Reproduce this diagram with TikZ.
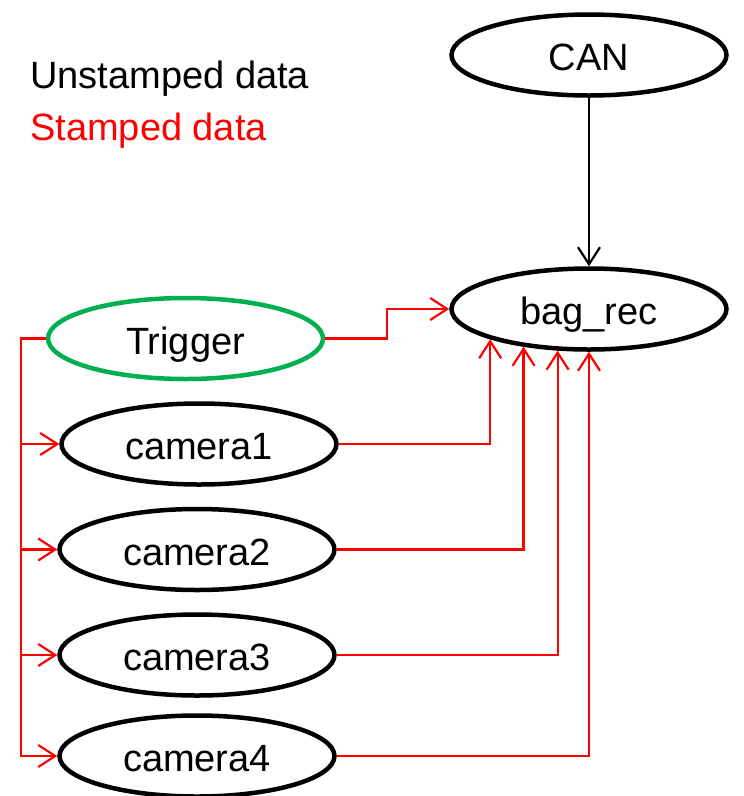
\documentclass[tikz,border=0pt]{standalone}
\usepackage{fontspec}
\setmainfont{Liberation Sans}
\usetikzlibrary{shapes.geometric,arrows.meta}
\tikzset{
  proc/.style={ellipse, draw=black, line width=4.5pt, inner sep=0pt,
    minimum width=275pt, minimum height=81pt,
    text height=31pt, text depth=0pt,
    font=\fontsize{38}{45}\selectfont},
  trig/.style={proc, draw={rgb,255:red,0;green,176;blue,80}},
  stamped/.style={draw=red, line width=2.2pt},
  raw/.style={draw=black, line width=2.2pt},
  tipv/.style={-{Straight Barb[length=17pt,width=22pt]}},
  legend/.style={anchor=base west, inner sep=0pt, font=\fontsize{38}{45}\selectfont}
}
\begin{document}
\begin{tikzpicture}[x=1pt, y=-1pt]
  \useasboundingbox (0,0) rectangle (744,796);

  % legend
  \node[legend] (lgraw) at (30,88) {Unstamped data};
  \node[legend, text=red] (lgstamp) at (30,140) {Stamped data};

  % processes
  \node[proc] (can) at (589,55) {CAN};
  \node[proc] (bag) at (589,309) {bag\_rec};
  \node[trig] (trigger) at (185.5,338.5) {Trigger};
  \node[proc] (cam1) at (199,444) {camera1};
  \node[proc] (cam2) at (197,549.5) {camera2};
  \node[proc] (cam3) at (197,655) {camera3};
  \node[proc] (cam4) at (197,756) {camera4};

  % unstamped CAN data
  \draw[raw, tipv] (can.south) -- (bag.north);

  % trigger line to the cameras
  \draw[stamped, tipv] (trigger.west) -- (21,338.5) coordinate (bus) |- (cam4.west);
  \draw[stamped, tipv] (bus |- cam1.west) -- (cam1.west);
  \draw[stamped, tipv] (bus |- cam2.west) -- (cam2.west);
  \draw[stamped, tipv] (bus |- cam3.west) -- (cam3.west);

  % stamped data into the recorder
  \draw[stamped, tipv] (trigger.east) -- (387,338.5) |- (bag.west);
  \draw[stamped, tipv] (cam1.east) -| (bag.197.4);
  \draw[stamped, tipv] (cam2.east) -| (bag.210.4);
  \draw[stamped, tipv] (cam3.east) -| (bag.233.5);
  \draw[stamped, tipv] (cam4.east) -| (bag.south);
\end{tikzpicture}
\end{document}
